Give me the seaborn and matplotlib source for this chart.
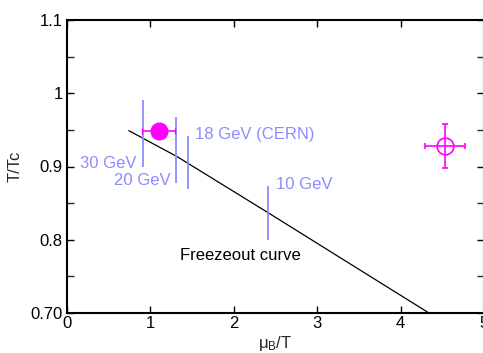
import matplotlib
matplotlib.use("Agg")
import matplotlib.pyplot as plt
import numpy as np
import pandas as pd
import seaborn as sns

# freezeout curve
curve_x = [0.74, 1.32, 2.41, 4.34]
curve_y = [0.949, 0.9135, 0.837, 0.70]

# beam energy bands (vertical lines)
band_labels = ["30 GeV", "20 GeV", "18 GeV (CERN)", "10 GeV"]
band_x = [0.91, 1.31, 1.445, 2.41]
band_lo = [0.900, 0.877, 0.869, 0.800]
band_hi = [0.991, 0.968, 0.941, 0.873]
label_x = [0.16, 0.56, 1.54, 2.50]
label_y = [0.904, 0.881, 0.944, 0.876]

# points with error bars
filled_x, filled_y, filled_xerr = 1.10, 0.949, 0.20
open_x, open_y, open_xerr, open_yerr = 4.53, 0.928, 0.24, 0.030

sns.set_theme(style="ticks")
plt.rcParams["font.family"] = ["Liberation Sans", "DejaVu Sans"]
plt.rcParams["mathtext.fontset"] = "custom"
plt.rcParams["mathtext.rm"] = "Liberation Sans"
plt.rcParams["mathtext.it"] = "Liberation Sans"

fig = plt.figure(figsize=(4.83, 3.53), dpi=100)
ax = fig.add_axes([67 / 483, 40 / 353, 417 / 483, 293 / 353])

curve = pd.DataFrame({"x": curve_x, "y": curve_y})
sns.lineplot(data=curve, x="x", y="y", ax=ax, color="black", lw=0.9, sort=False)

blue = "#8c8cff"
ax.vlines(band_x, band_lo, band_hi, color=blue, lw=1.3)
for t, lx, ly in zip(band_labels, label_x, label_y):
    ax.text(lx, ly, t, color=blue, fontsize=12, va="center", ha="left")

ax.text(1.36, 0.779, "Freezeout curve", color="black", fontsize=12, va="center")

mag = "#ff00ff"
ax.errorbar([filled_x], [filled_y], xerr=[filled_xerr], fmt="o", color=mag,
            ms=12, capsize=2, elinewidth=1.2)
ax.errorbar([open_x], [open_y], xerr=[open_xerr], yerr=[open_yerr], fmt="o",
            mfc="none", mec=mag, color=mag, ms=12, mew=1.2, capsize=2.5,
            elinewidth=1.2)

ax.set_xlim(0, 5)
ax.set_ylim(0.7, 1.1)
ax.set_xticks([0, 1, 2, 3, 4, 5])
ax.set_yticks([0.7, 0.8, 0.9, 1.0, 1.1])
ax.set_yticklabels(["0.70", "0.8", "0.9", "1", "1.1"])
ax.set_yticks(np.arange(0.75, 1.1, 0.1), minor=True)
ax.tick_params(direction="in", top=True, right=True, labelsize=12,
               length=5, width=1, pad=3, colors="black")
ax.tick_params(axis="x", pad=2)
ax.tick_params(which="minor", direction="in", right=True, length=5, width=1)
for s in ax.spines.values():
    s.set_linewidth(1.5)
    s.set_color("black")

ax.set_xlabel(r"$\mu_\mathrm{B}$/T", fontsize=12, labelpad=2)
ax.set_ylabel("T/Tc", fontsize=12, labelpad=6)

fig.savefig("out.png", dpi=100)
